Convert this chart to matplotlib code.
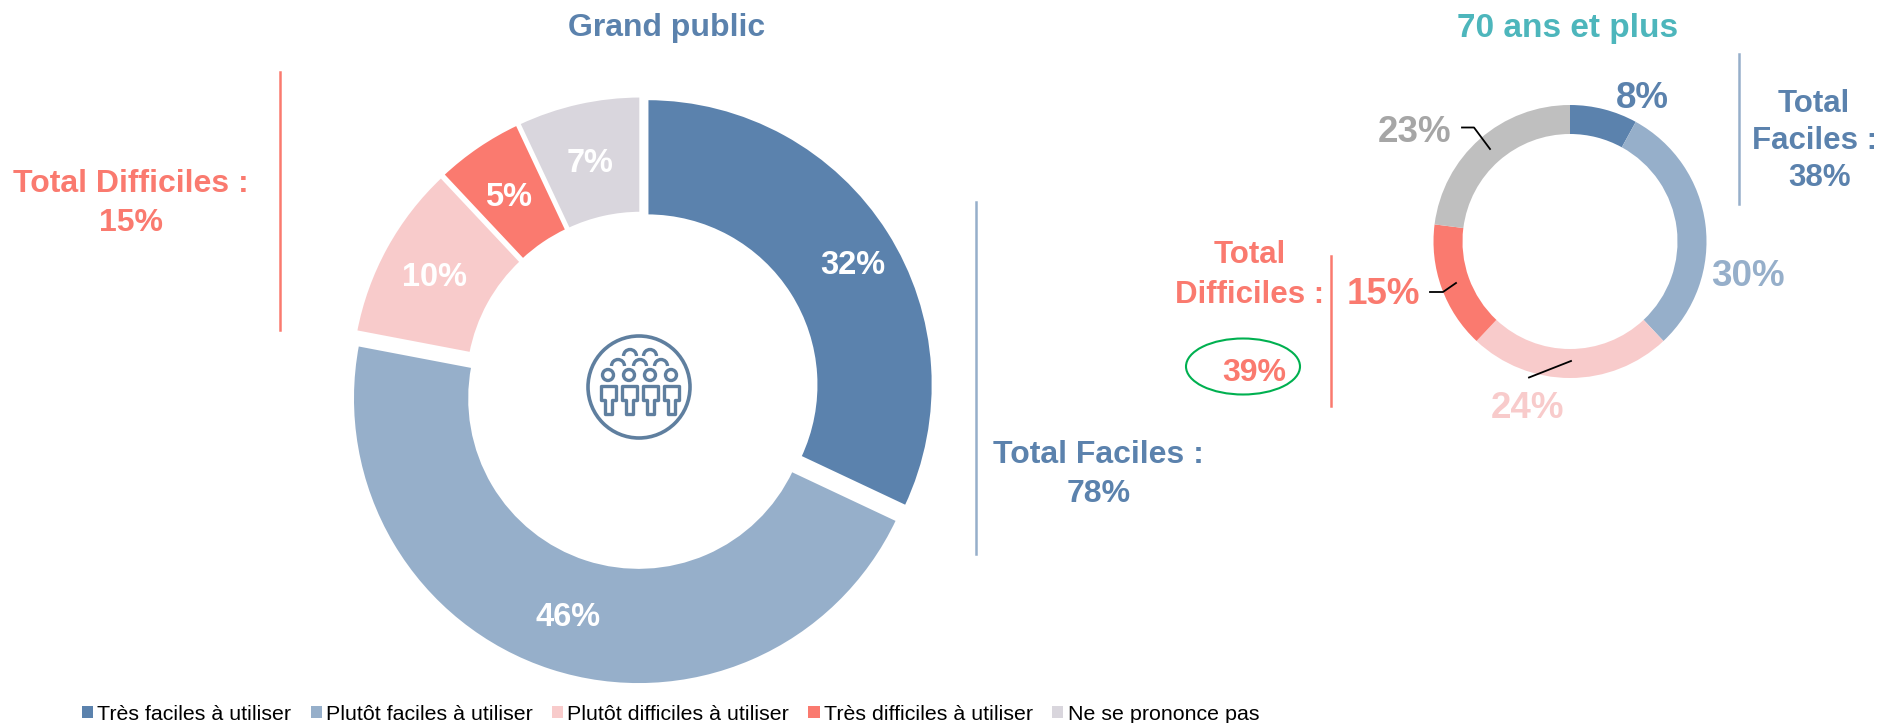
import matplotlib
matplotlib.use('Agg')
import matplotlib.pyplot as plt
from matplotlib.patches import Circle, Ellipse, Patch, Polygon, Arc

plt.rcParams['font.family'] = ['Liberation Sans', 'DejaVu Sans']

W, H = 1884, 723

categories = ['Très faciles à utiliser', 'Plutôt faciles à utiliser', 'Plutôt difficiles à utiliser',
              'Très difficiles à utiliser', 'Ne se prononce pas']
public_values = [32, 46, 10, 5, 7]
seniors_values = [8, 30, 24, 15, 23]
public_title = 'Grand public'
seniors_title = '70 ans et plus'

BLUE = '#5B82AD'
LIGHT = '#96AFCA'
PINK = '#F8CBCB'
RED = '#FA7A6F'
MAUVE = '#D9D6DD'
GREY = '#BFBFBF'
public_colors = [BLUE, LIGHT, PINK, RED, MAUVE]
seniors_colors = [BLUE, LIGHT, PINK, RED, GREY]
public_explode = [6, 11, 6, 6, 6]


def Y(y):
    # picture coordinates (y down) to axes coordinates
    return H - y


def label(x, y, s, color, size):
    ax.text(x, Y(y + 3), s, color=color, fontsize=size, fontweight='bold', ha='center', va='center')


fig = plt.figure(figsize=(W / 100, H / 100), dpi=100)
ax = fig.add_axes([0, 0, 1, 1])

ax.pie(public_values, colors=public_colors, startangle=90, counterclock=False,
       explode=public_explode, radius=286, center=(642, Y(388)), frame=True,
       wedgeprops=dict(width=117, edgecolor='white', linewidth=2))
ax.pie(seniors_values, colors=seniors_colors, startangle=90, counterclock=False,
       radius=136.5, center=(1570, Y(241.5)), frame=True,
       wedgeprops=dict(width=29, linewidth=0))

ax.set_xlim(0, W)
ax.set_ylim(0, H)
ax.set_aspect('equal')
ax.axis('off')

# titles
label(667, 25, public_title, BLUE, 23)
label(1568, 25, seniors_title, '#4DB6BC', 24)

# slice labels, big donut
for (x, y), v in zip([(853, 263), (568, 614), (435, 275), (509, 195), (590, 160)], public_values):
    label(x, y, '%d%%' % v, 'white', 23.5)

# slice labels, small donut
small_pos = [(1642, 95), (1748, 273), (1528, 406), (1383, 292), (1415, 130)]
small_col = [BLUE, LIGHT, PINK, RED, '#A6A6A6']
for (x, y), v, c in zip(small_pos, seniors_values, small_col):
    label(x, y, '%d%%' % v, c, 26.5)

# totals
label(131, 181, 'Total Difficiles :', RED, 23)
label(131, 220, '15%', RED, 23)
label(1098, 452, 'Total Faciles :', BLUE, 23)
label(1099, 491, '78%', BLUE, 23)
label(1814, 101, 'Total', BLUE, 22.5)
label(1814, 138, 'Faciles :', BLUE, 22.5)
label(1820, 175, '38%', BLUE, 22.5)
label(1250, 252, 'Total', RED, 22.5)
label(1250, 292, 'Difficiles :', RED, 22.5)
label(1254, 370, '39%', RED, 23)

# separators
ax.plot([280, 280], [Y(72), Y(330)], color=RED, lw=1.8)
ax.plot([976, 976], [Y(202), Y(554)], color=LIGHT, lw=1.8)
ax.plot([1738.5, 1738.5], [Y(54), Y(204)], color=LIGHT, lw=1.8)
ax.plot([1331, 1331], [Y(256), Y(406)], color=RED, lw=1.8)

# leader lines
for xs, ys in [([1462, 1474, 1490], [127.5, 127.5, 149]),
               ([1430, 1443, 1456], [292, 292, 283]),
               ([1529, 1571], [377.5, 361])]:
    ax.plot(xs, [Y(v) for v in ys], color='black', lw=1.3)

ax.add_patch(Ellipse((1243, Y(366.5)), 114, 56, fill=False, edgecolor='#00B050', lw=1.5))

# people icon in the hole
ICON = '#5F7F9F'
ax.add_patch(Circle((639, Y(387)), 51, fill=False, edgecolor=ICON, lw=2.6))
for px in [608, 629, 650, 671]:
    ax.add_patch(Circle((px, Y(375)), 5.5, fill=False, edgecolor=ICON, lw=2.4))
    body = [(px - 7.5, 386), (px + 7.5, 386), (px + 7.5, 400), (px + 3.5, 400),
            (px + 3.5, 414), (px - 3.5, 414), (px - 3.5, 400), (px - 7.5, 400)]
    ax.add_patch(Polygon([(a, Y(b)) for a, b in body], closed=True, fill=False,
                         edgecolor=ICON, lw=2.4, joinstyle='round'))
for px, py in [(618, 366), (640, 366), (661, 366), (630, 356), (650, 356)]:
    ax.add_patch(Arc((px, Y(py)), 13, 13, theta1=0, theta2=180, edgecolor=ICON, lw=2.4))

handles = [Patch(facecolor=c, edgecolor='none') for c in public_colors]
ax.legend(handles, categories, ncol=5, loc='center left', bbox_to_anchor=(82, Y(714)),
          bbox_transform=ax.transData, frameon=False, fontsize=15.4, borderpad=0, borderaxespad=0,
          handlelength=0.52, handleheight=0.52, handletextpad=0.2, columnspacing=0.9)

fig.savefig('out.png', dpi=100)
